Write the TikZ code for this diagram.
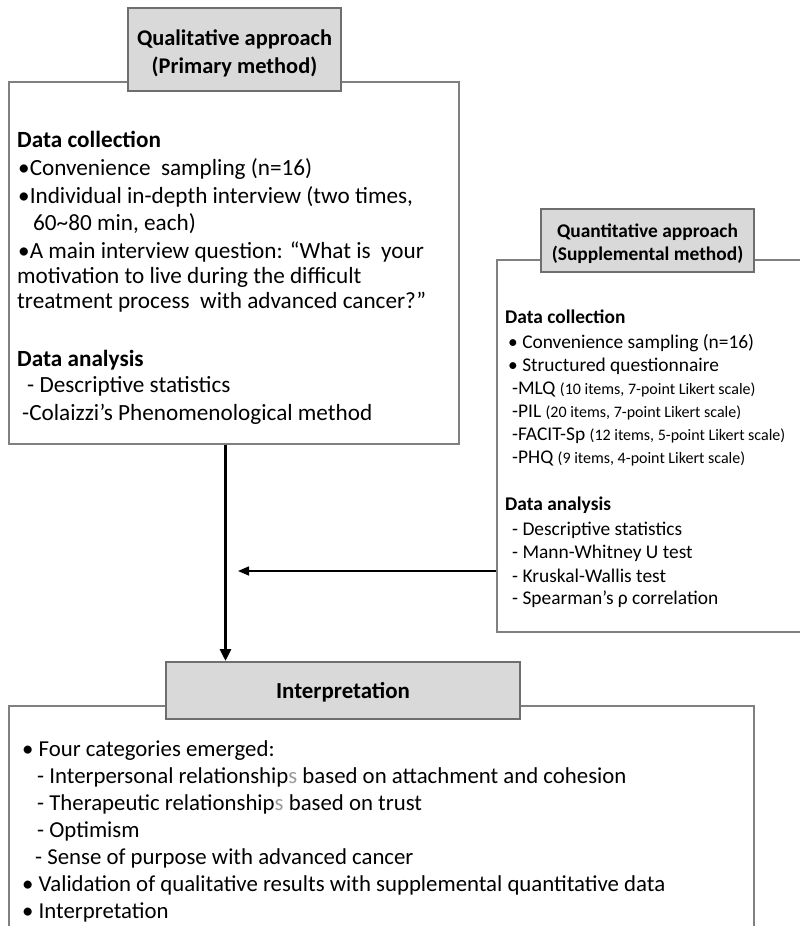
\documentclass[tikz,border=0pt]{standalone}
\usepackage{fontspec}
\setmainfont{Carlito}
\usetikzlibrary{arrows.meta}
\definecolor{boxline}{HTML}{808080}
\definecolor{headline}{HTML}{6E6E6E}
\definecolor{headfill}{HTML}{D9D9D9}
\definecolor{lightS}{HTML}{9A9A9A}
\newcommand{\parsmall}[1]{{\fontsize{16}{18}\selectfont #1}}
\begin{document}
\begin{tikzpicture}[x=1pt,y=-1pt,
  box/.style={draw=boxline, line width=1.5pt, fill=white, inner sep=0pt},
  headbox/.style={draw=headline, line width=2pt, fill=headfill, inner sep=0pt},
  headtxt/.style={anchor=base, inner sep=0pt, font=\bfseries\fontsize{22.4}{24}\selectfont},
  headtxtsm/.style={anchor=base, inner sep=0pt, font=\bfseries\fontsize{19.4}{20}\selectfont},
  bigtxt/.style={anchor=base west, inner sep=0pt, font=\fontsize{23.2}{26}\selectfont},
  bigbold/.style={bigtxt, font=\bfseries\fontsize{23.2}{26}\selectfont},
  bottxt/.style={anchor=base west, inner sep=0pt, font=\fontsize{22.8}{26}\selectfont},
  smtxt/.style={anchor=base west, inner sep=0pt, font=\fontsize{19.4}{20}\selectfont},
  smbold/.style={smtxt, font=\bfseries\fontsize{19.4}{20}\selectfont},
  thickarrow/.style={line width=3pt, -{Triangle[width=11pt,length=12pt]}},
  thinarrow/.style={line width=1.5pt, -{Triangle[width=9pt,length=11pt]}}
]
\useasboundingbox (0,0) rectangle (800,926);
\begin{scope}
\clip (0,0) rectangle (800,926);

% ---------- Qualitative block ----------
\node[box, minimum width=450pt, minimum height=362pt] (qualbox) at (234,263) {};
\node[headbox, minimum width=213pt, minimum height=83pt] (qualhead) at (234.5,49.5) {};
\node[headtxt] (qh1) at (234.5,45) {Qualitative approach};
\node[headtxt] (qh2) at (234.5,73) {(Primary method)};

\node[bigbold] (l1) at (17,147) {Data collection};
\node[bigtxt] (l2) at (18,175) {•Convenience\ \ sampling (n=16)};
\node[bigtxt] (l3) at (18,203) {•Individual in-depth interview (two times,};
\node[bigtxt] (l4) at (33,230) {60\textasciitilde80 min, each)};
\node[bigtxt] (l5) at (18,258) {•A main interview question: “What is\ \ your};
\node[bigtxt] (l6) at (17,283) {motivation to live during the difficult};
\node[bigtxt] (l7) at (17,308) {treatment process\ \ with advanced cancer?”};
\node[bigbold] (l8) at (17,366) {Data analysis};
\node[bigtxt] (l9) at (27,392) {- Descriptive statistics};
\node[bigtxt] (l10) at (22,420) {-Colaizzi’s Phenomenological method};

% ---------- Quantitative block ----------
\node[box, minimum width=320pt, minimum height=372pt] (quantbox) at (657,446) {};
\node[headbox, minimum width=213pt, minimum height=63pt] (quanthead) at (647.5,240.5) {};
\node[headtxtsm] (nh1) at (647.5,237) {Quantitative approach};
\node[headtxtsm] (nh2) at (647.5,260) {(Supplemental method)};

\node[smbold] (r1) at (505,323) {Data collection};
\node[smtxt] (r2) at (508,348) {•\ Convenience sampling (n=16)};
\node[smtxt] (r3) at (508,371) {•\ Structured questionnaire};
\node[smtxt] (r4) at (512,394) {-MLQ \parsmall{(10 items, 7-point Likert scale)}};
\node[smtxt] (r5) at (512,417) {-PIL \parsmall{(20 items, 7-point Likert scale)}};
\node[smtxt] (r6) at (512,440) {-FACIT-Sp \parsmall{(12 items, 5-point Likert scale)}};
\node[smtxt] (r7) at (512,463) {-PHQ \parsmall{(9 items, 4-point Likert scale)}};
\node[smbold] (r8) at (505,510) {Data analysis};
\node[smtxt] (r9) at (512,535) {- Descriptive statistics};
\node[smtxt] (r10) at (512,558) {- Mann-Whitney U test};
\node[smtxt] (r11) at (512,582) {- Kruskal-Wallis test};
\node[smtxt] (r12) at (512,604) {- Spearman’s ρ correlation};

% ---------- Interpretation block ----------
\node[box, minimum width=745pt, minimum height=260pt] (interpbox) at (381.5,836) {};
\node[headbox, minimum width=354pt, minimum height=57pt] (interphead) at (343,690.5) {};
\node[headtxt, font=\bfseries\fontsize{22.9}{24}\selectfont] (ih) at (343,698) {Interpretation};

\node[bottxt] (b1) at (22,756) {•\ Four categories emerged:};
\node[bottxt] (b2) at (37,783) {- Interpersonal relationship{\color{lightS}s} based on attachment and cohesion};
\node[bottxt] (b3) at (37,810) {- Therapeutic relationship{\color{lightS}s} based on trust};
\node[bottxt] (b4) at (37,837) {- Optimism};
\node[bottxt] (b5) at (35,864) {- Sense of purpose with advanced cancer};
\node[bottxt] (b6) at (22,891) {•\ Validation of qualitative results with supplemental quantitative data};
\node[bottxt] (b7) at (22,918) {•\ Interpretation};

% ---------- Connectors ----------
\coordinate (ax) at (225.5,0);
\coordinate (hend) at (238,571);
\draw[thickarrow] (qualbox.south -| ax) -- (interphead.north -| ax);
\draw[thinarrow] (quantbox.west |- hend) -- (hend);
\end{scope}
\end{tikzpicture}
\end{document}
